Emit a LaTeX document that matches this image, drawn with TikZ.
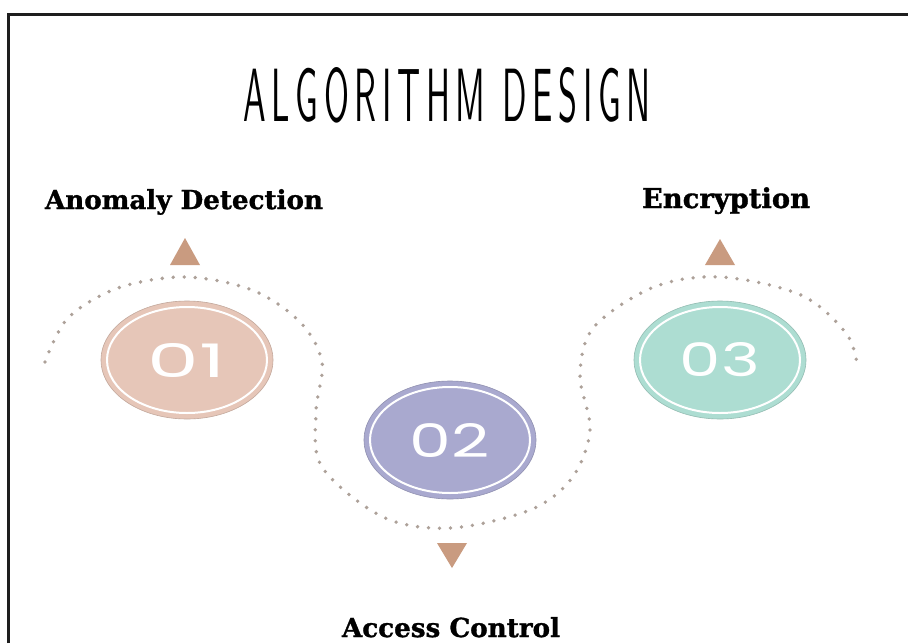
\documentclass[tikz,border=0pt]{standalone}
\usepackage{fontspec}
\usepackage{graphicx}
\usetikzlibrary{shapes.geometric}
\newfontfamily\labelfont{DejaVu Serif}[FakeBold=1.2]
\newfontfamily\numfont{Poppins}
\definecolor{peach}{HTML}{E6C6B8}
\definecolor{lav}{HTML}{A9A9CF}
\definecolor{mint}{HTML}{ADDDD2}
\definecolor{tanarrow}{HTML}{C99B80}
\definecolor{dotcol}{HTML}{ADA199}
\definecolor{framecol}{HTML}{1E1E1E}
\tikzset{
  stepoval/.style={ellipse, minimum width=172pt, minimum height=118pt, inner sep=0pt, draw=#1!85!black, line width=0.6pt, fill=#1},
  ringline/.style={draw=white, line width=2pt},
  numtext/.style={text=white},
  lbl/.style={inner sep=0pt, text=black},
  dotpath/.style={draw=dotcol, line width=3.8pt, line cap=round, dash pattern=on 0pt off 11pt},
  tri/.style={fill=tanarrow},
}
\begin{document}
\begin{tikzpicture}[x=1pt,y=-1pt]
\useasboundingbox (0,0) rectangle (908,643);
\fill[white] (0,0) rectangle (908,643);
% frame
\draw[framecol, line width=3pt] (8.5,643) -- (8.5,14.5) -- (908,14.5);
% title
\node[lbl] (title) at (447,95) {\resizebox{407pt}{54pt}{\sffamily A\,L\,G\,O\,R\,I\,T\,H\,M\enspace D\,E\,S\,I\,G\,N}};
% dotted wave
\draw[dotpath] plot[smooth, tension=0.55] coordinates {
 (45,362) (68,318) (118,288) (185,277) (252,290) (300,322) (322,362)
 (316,412) (322,467) (383,517) (450,528) (530,510) (572,478) (590,430)
 (580,375) (594,327) (654,287) (721,277) (801,295) (846,333) (857,364)};
% ovals
\node[stepoval=peach] (n1) at (187,360) {};
\node[stepoval=lav] (n2) at (450,440) {};
\node[stepoval=mint] (n3) at (720,360) {};
\draw[ringline] (n1.center) ellipse (80pt and 53pt);
\draw[ringline] (n2.center) ellipse (80pt and 53pt);
\draw[ringline] (n3.center) ellipse (80pt and 53pt);
\node[numtext] (t1) at (n1.center) {\resizebox{78pt}{34pt}{\numfont 01}};
\node[numtext] (t2) at (n2.center) {\resizebox{80pt}{34pt}{\numfont 02}};
\node[numtext] (t3) at (n3.center) {\resizebox{80pt}{34pt}{\numfont 03}};
% triangles
\fill[tri] (170,265) -- (185,238) -- (200,265) -- cycle;
\fill[tri] (705,265) -- (720,239) -- (735,265) -- cycle;
\fill[tri] (437,543) -- (467,543) -- (452,568) -- cycle;
% labels
\node[lbl, anchor=base] (l1) at (184,209) {\resizebox{278pt}{!}{\labelfont\bfseries Anomaly Detection}};
\node[lbl, anchor=base] (l3) at (726,208) {\resizebox{168pt}{!}{\labelfont\bfseries Encryption}};
\node[lbl, anchor=base] (l2) at (451,637) {\resizebox{218pt}{!}{\labelfont\bfseries Access Control}};
\end{tikzpicture}
\end{document}
